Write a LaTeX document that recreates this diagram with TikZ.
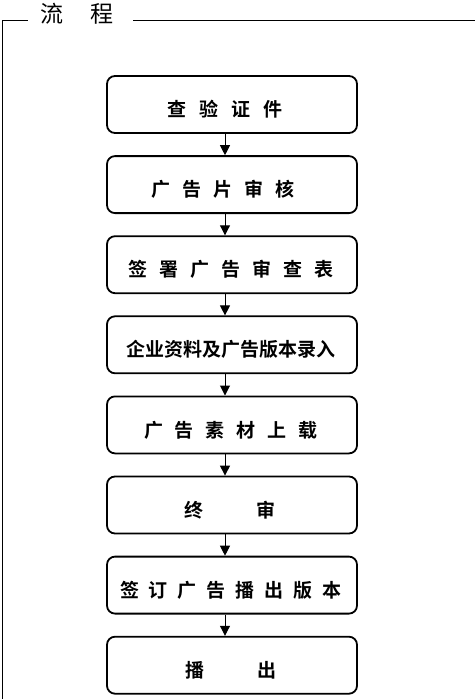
\documentclass[tikz,border=0pt]{standalone}
\usepackage{fontspec}
\newfontfamily\cjkb[BoldFont={Noto Sans CJK SC Bold}]{Noto Sans CJK SC}
\usetikzlibrary{arrows.meta}
\tikzset{
  flowbox/.style={draw, line width=1.8pt, rounded corners=8pt, minimum width=250pt, minimum height=57pt, inner sep=0pt},
  boxtext/.style={font=\cjkb\bfseries\fontsize{19pt}{19pt}\selectfont, inner sep=0pt, anchor=center},
  flowarrow/.style={line width=1pt, -{Triangle[length=10pt,width=10pt]}},
  frameline/.style={line width=0.9pt}
}
\begin{document}
\begin{tikzpicture}[x=1pt,y=-1pt]
\useasboundingbox (0,0) rectangle (475,699);
% frame
\coordinate (fa) at (2,699);
\coordinate (fb) at (2,20);
\coordinate (fc) at (28,20);
\coordinate (fd) at (133,20);
\coordinate (fe) at (475,20);
\draw[frameline] (fa) -- (fb) -- (fc);
\draw[frameline] (fd) -- (fe);
\node[font=\cjkb\fontsize{23pt}{23pt}\selectfont, inner sep=0pt] (title) at (77,14) {流\kern27pt程};
% boxes
\foreach \i/\t in {1/76,2/156.1,3/236.2,4/316.3,5/396.4,6/476.5,7/556.6,8/636.7}{
  \node[flowbox] (b\i) at (232,\t+28.5) {};
}
\node[boxtext] (t1) at ([xshift=-7pt,yshift=-5pt]b1.center) {查\kern13pt验\kern13pt证\kern13pt件};
\node[boxtext] (t2) at ([xshift=-9pt,yshift=-5pt]b2.center) {广\kern12pt告\kern12pt片\kern12pt审\kern12pt核};
\node[boxtext] (t3) at ([xshift=-1pt,yshift=-5pt]b3.center) {签\kern12pt署\kern12pt广\kern12pt告\kern12pt审\kern12pt查\kern12pt表};
\node[boxtext] (t4) at ([xshift=-1pt,yshift=-5pt]b4.center) {企业资料及广告版本录入};
\node[boxtext] (t5) at ([xshift=-1pt,yshift=-5pt]b5.center) {广\kern12pt告\kern12pt素\kern12pt材\kern12pt上\kern12pt载};
\node[boxtext] (t6) at ([xshift=-2pt,yshift=-5pt]b6.center) {终\kern54pt审};
\node[boxtext] (t7) at ([xshift=-1pt,yshift=-5pt]b7.center) {签\kern10pt订\kern10pt广\kern10pt告\kern10pt播\kern10pt出\kern10pt版\kern10pt本};
\node[boxtext] (t8) at ([xshift=-1pt,yshift=-5pt]b8.center) {播\kern54pt出};
% arrows
\foreach \a/\b in {1/2,2/3,3/4,4/5,5/6,6/7,7/8}{
  \draw[flowarrow] ([xshift=-7pt]b\a.south) -- ([xshift=-7pt]b\b.north);
}
\end{tikzpicture}
\end{document}
